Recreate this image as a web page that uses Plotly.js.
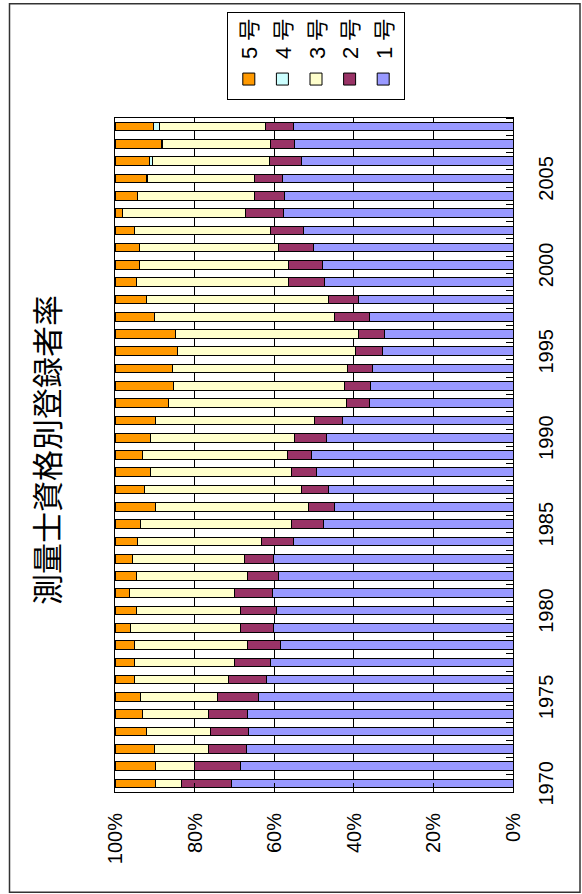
<!DOCTYPE html>
<html>
<head>
<meta charset="utf-8">
<script src="https://cdn.plot.ly/plotly-3.0.1.min.js"></script>
<style>
  html, body { margin: 0; padding: 0; background: #fff; overflow: hidden; }
  #wrap { position: absolute; left: 0; top: 0; width: 582px; height: 894px; overflow: hidden; }
  /* The chart is laid out landscape and turned a quarter turn counter-clockwise */
  #chart {
    position: absolute; left: 0; top: 0; width: 894px; height: 582px;
    transform-origin: 0 0;
    transform: translate(0px, 894px) rotate(-90deg);
  }
</style>
</head>
<body>
<div id="wrap"><div id="chart"></div></div>
<script>
// Registration share of surveyors by qualification grade, 1970-2008 (%)
const years = [1970,1971,1972,1973,1974,1975,1976,1977,1978,1979,
               1980,1981,1982,1983,1984,1985,1986,1987,1988,1989,
               1990,1991,1992,1993,1994,1995,1996,1997,1998,1999,
               2000,2001,2002,2003,2004,2005,2006,2007,2008];

const grade1 = [70.7,68.4,66.8,66.4,66.8,64.0,62.1,60.9,58.4,60.2,
                59.3,60.4,58.8,60.2,55.1,47.7,44.8,46.4,49.3,50.6,
                46.9,42.7,36.1,35.8,35.4,32.9,32.4,36.0,38.7,47.3,
                47.8,50.1,52.7,57.7,57.3,58.0,53.1,54.8,55.2];
const grade2 = [12.4,11.6,9.6,9.5,9.6,10.1,9.5,9.1,8.2,8.2,
                9.1,9.5,8.0,7.3,8.2,8.0,6.5,6.6,6.4,6.1,
                8.1,7.1,5.8,6.5,6.3,6.7,6.3,8.8,7.6,9.1,
                8.5,8.7,8.2,9.4,7.6,7.0,8.1,6.1,7.0];
const grade3 = [6.6,9.8,13.7,16.1,16.6,19.3,23.6,25.2,28.5,27.6,
                26.3,26.5,27.9,28.2,31.0,37.8,38.5,39.6,35.4,36.2,
                36.0,39.9,44.6,42.9,43.8,44.8,46.1,45.3,45.6,38.4,
                37.6,35.0,34.2,31.0,29.3,26.8,29.3,27.1,26.7];
const grade4 = [0,0,0,0,0,0,0,0,0,0,
                0,0,0,0,0,0,0,0,0,0,
                0,0,0,0,0,0,0,0,0,0,
                0,0,0,0,0,0.4,0.8,0.4,1.4];
const grade5 = [10.2,10.2,9.8,8.0,7.0,6.5,4.9,4.9,4.9,4.0,
                5.3,3.6,5.3,4.4,5.7,6.5,10.2,7.3,9.0,7.0,
                9.0,10.2,13.5,14.8,14.5,15.6,15.2,9.8,8.0,5.3,
                6.1,6.1,4.9,1.9,5.7,7.8,8.6,11.6,9.7];

const seriesNames = ['1 号', '2 号', '3 号', '4 号', '5 号'];
const seriesData = [grade1, grade2, grade3, grade4, grade5];
const seriesColors = ['#9999FF', '#993366', '#FFFFCC', '#CCFFFF', '#FF9900'];

const yearTicks = [1970, 1975, 1980, 1985, 1990, 1995, 2000, 2005];
const pctTicks = [0, 20, 40, 60, 80, 100];
const pctLabels = ['0%', '20%', '40%', '60%', '80%', '100%'];

const FONT = '"Liberation Sans", Arial, "Noto Sans CJK JP", sans-serif';

const traces = seriesData.map((vals, i) => ({
  type: 'bar',
  name: seriesNames[i],
  x: years,
  y: vals,
  marker: { color: seriesColors[i], line: { color: '#000', width: 1 } },
  legendgroup: 'g' + i,
  legendrank: 100 - i,
  hoverinfo: 'skip'
}));

// Plot area in layout pixels
const L = 102, R = 116, T = 115, B = 69, W = 894, H = 582;
const pw = W - L - R, ph = H - T - B;
const px = u => (u - L) / pw;          // container x -> paper x
const py = v => (H - B - v) / ph;      // container y -> paper y

const layout = {
  width: W, height: H,
  margin: { l: L, r: R, t: T, b: B, pad: 0 },
  paper_bgcolor: '#fff',
  plot_bgcolor: '#fff',
  barmode: 'stack',
  barnorm: 'percent',
  bargap: 0.5,
  showlegend: true,
  hovermode: false,
  font: { family: FONT, size: 20, color: '#000' },
  title: {
    text: '測量士資格別登録者率',
    font: { family: '"Noto Sans CJK JP", sans-serif', size: 31, color: '#000' },
    xref: 'container', yref: 'container',
    x: 444 / W, y: 1 - 48 / H,
    xanchor: 'center', yanchor: 'middle'
  },
  xaxis: {
    type: 'linear',
    range: [1969.5, 2008.5],
    tickvals: yearTicks,
    ticks: '',
    ticklabelstandoff: 15,
    tickfont: { family: FONT, size: 20, color: '#000' },
    showgrid: false,
    zeroline: false,
    showline: true, linecolor: '#000', linewidth: 1, mirror: true,
    minor: { tick0: 1969.5, dtick: 1, ticks: 'inside', ticklen: 7, tickcolor: '#000', tickwidth: 1, showgrid: false }
  },
  yaxis: {
    range: [0, 100],
    tickvals: pctTicks,
    ticktext: pctLabels,
    ticks: 'inside', ticklen: 9, tickcolor: '#000', tickwidth: 1,
    ticklabelstandoff: 16,
    tickfont: { family: FONT, size: 20, color: '#000' },
    showgrid: true, gridcolor: '#000', gridwidth: 1,
    zeroline: false,
    showline: true, linecolor: '#000', linewidth: 1, mirror: true
  },
  legend: {
    x: px(796), y: py(227),
    xanchor: 'left', yanchor: 'top',
    traceorder: 'grouped',
    tracegroupgap: 2,
    bordercolor: '#000', borderwidth: 1,
    bgcolor: '#fff',
    font: { family: FONT, size: 22, color: '#000' }
  },
  shapes: [{
    type: 'rect', xref: 'paper', yref: 'paper',
    x0: px(1.5), x1: px(892.5), y0: py(580), y1: py(9.5),
    line: { color: '#333', width: 1.5 }, fillcolor: 'rgba(0,0,0,0)', layer: 'below'
  }]
};

Plotly.newPlot('chart', traces, layout, { displayModeBar: false, staticPlot: true });
</script>
</body>
</html>
